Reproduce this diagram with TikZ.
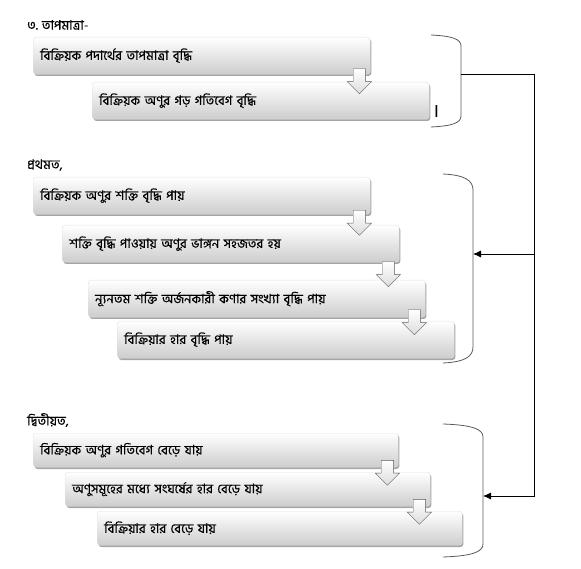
\documentclass[tikz,border=0pt]{standalone}
\usepackage{fontspec}
\usetikzlibrary{positioning,calc,shapes.arrows,shadows,arrows.meta}
\newfontfamily\bnfont[Script=Bengali,FakeBold=0.4]{Hind Siliguri}
\definecolor{mygreyi}{RGB}{205,205,205}
\definecolor{mygreyii}{RGB}{90,90,90}
\newcommand\stepdown[3]{
    \node[downarrow] (#3) at ($(#1.south east)!.5!(#1.south east |- #2.north)+(-11,0)$) {};
}

\begin{document}
\begin{tikzpicture}[x=1pt,y=-1pt,
            stepb/.style={
                draw=mygreyi!60,
                top color=white,
                bottom color=mygreyi,
                rounded corners=3pt,
                anchor=north west,
                font={\bnfont\fontsize{13}{15}\selectfont},
                align=left,
                inner xsep=7pt,
                text width=323pt,
                minimum height=37pt,
                drop shadow={shadow xshift=1.2pt,shadow yshift=-1.8pt,fill=gray,opacity=.7}},
            stepbw/.style={stepb,text width=351pt,minimum height=34pt},
            downarrow/.style={
                single arrow,
                shape border rotate=270,
                draw=mygreyii,
                top color=white,
                bottom color=mygreyi!70,
                minimum height=25pt,
                inner sep=6pt,
                single arrow head extend=6pt},
            headb/.style={font={\bnfont\fontsize{13}{15}\selectfont},anchor=west,inner sep=0pt},
            brace/.style={draw=mygreyii,line width=0.8pt},
            link/.style={draw=black,line width=0.8pt,-{Latex[length=8pt,width=7pt]}},
        ]
        \useasboundingbox (0,0) rectangle (581,569);

        % temperature
        \node[headb] (HeadT) at (27,25) {৩. তাপমাত্রা-};
        \node[stepb] (TempA) at (33,37) {বিক্রিয়ক পদার্থের তাপমাত্রা বৃদ্ধি};
        \node[stepb] (TempB) at (92,82) {বিক্রিয়ক অণুর গড় গতিবেগ বৃদ্ধি};
        \stepdown{TempA}{TempB}{ArT}
        \node[headb,font={\bnfont\fontsize{18}{20}\selectfont}] (Dnd) at (433,111) {।};

        % first
        \node[headb] (HeadF) at (27,165) {প্রথমত,};
        \node[stepb] (EnA) at (33,177) {বিক্রিয়ক অণুর শক্তি বৃদ্ধি পায়};
        \node[stepb] (EnB) at (62,225) {শক্তি বৃদ্ধি পাওয়ায় অণুর ভাঙ্গন সহজতর হয়};
        \node[stepb] (EnC) at (88,280) {ন্যূনতম শক্তি অর্জনকারী কণার সংখ্যা বৃদ্ধি পায়};
        \node[stepb] (EnD) at (117,321) {বিক্রিয়ার হার বৃদ্ধি পায়};
        \stepdown{EnA}{EnB}{ArA}
        \stepdown{EnB}{EnC}{ArB}
        \stepdown{EnC}{EnD}{ArC}

        % second
        \node[headb] (HeadS) at (27,420) {দ্বিতীয়ত,};
        \node[stepbw] (VelA) at (33,433) {বিক্রিয়ক অণুর গতিবেগ বেড়ে যায়};
        \node[stepbw] (VelB) at (65,472) {অণুসমূহের মধ্যে সংঘর্ষের হার বেড়ে যায়};
        \node[stepbw] (VelC) at (97,511) {বিক্রিয়ার হার বেড়ে যায়};
        \stepdown{VelA}{VelB}{ArD}
        \stepdown{VelB}{VelC}{ArE}

        % brackets
        \draw[brace] (431,35) .. controls (452,36) and (461,39) .. (461,46) -- (461,116) .. controls (461,123) and (452,126) .. (431,127);
        \draw[brace] (443,174) .. controls (464,175) and (473,180) .. (473,190) -- (473,347) .. controls (473,357) and (464,362) .. (443,363);
        \draw[brace] (443,424) .. controls (472,425) and (483,429) .. (483,437) -- (483,544) .. controls (483,552) and (472,556) .. (443,557);
        \coordinate (BrT) at (461,74);
        \coordinate (BrF) at (473,254);
        \coordinate (BrS) at (483,496);
        \coordinate (Bus) at (534,74);

        \draw[link] (BrT) -- (Bus) |- (BrS);
        \draw[link] (Bus |- BrF) -- (BrF);
    \end{tikzpicture}
\end{document}
